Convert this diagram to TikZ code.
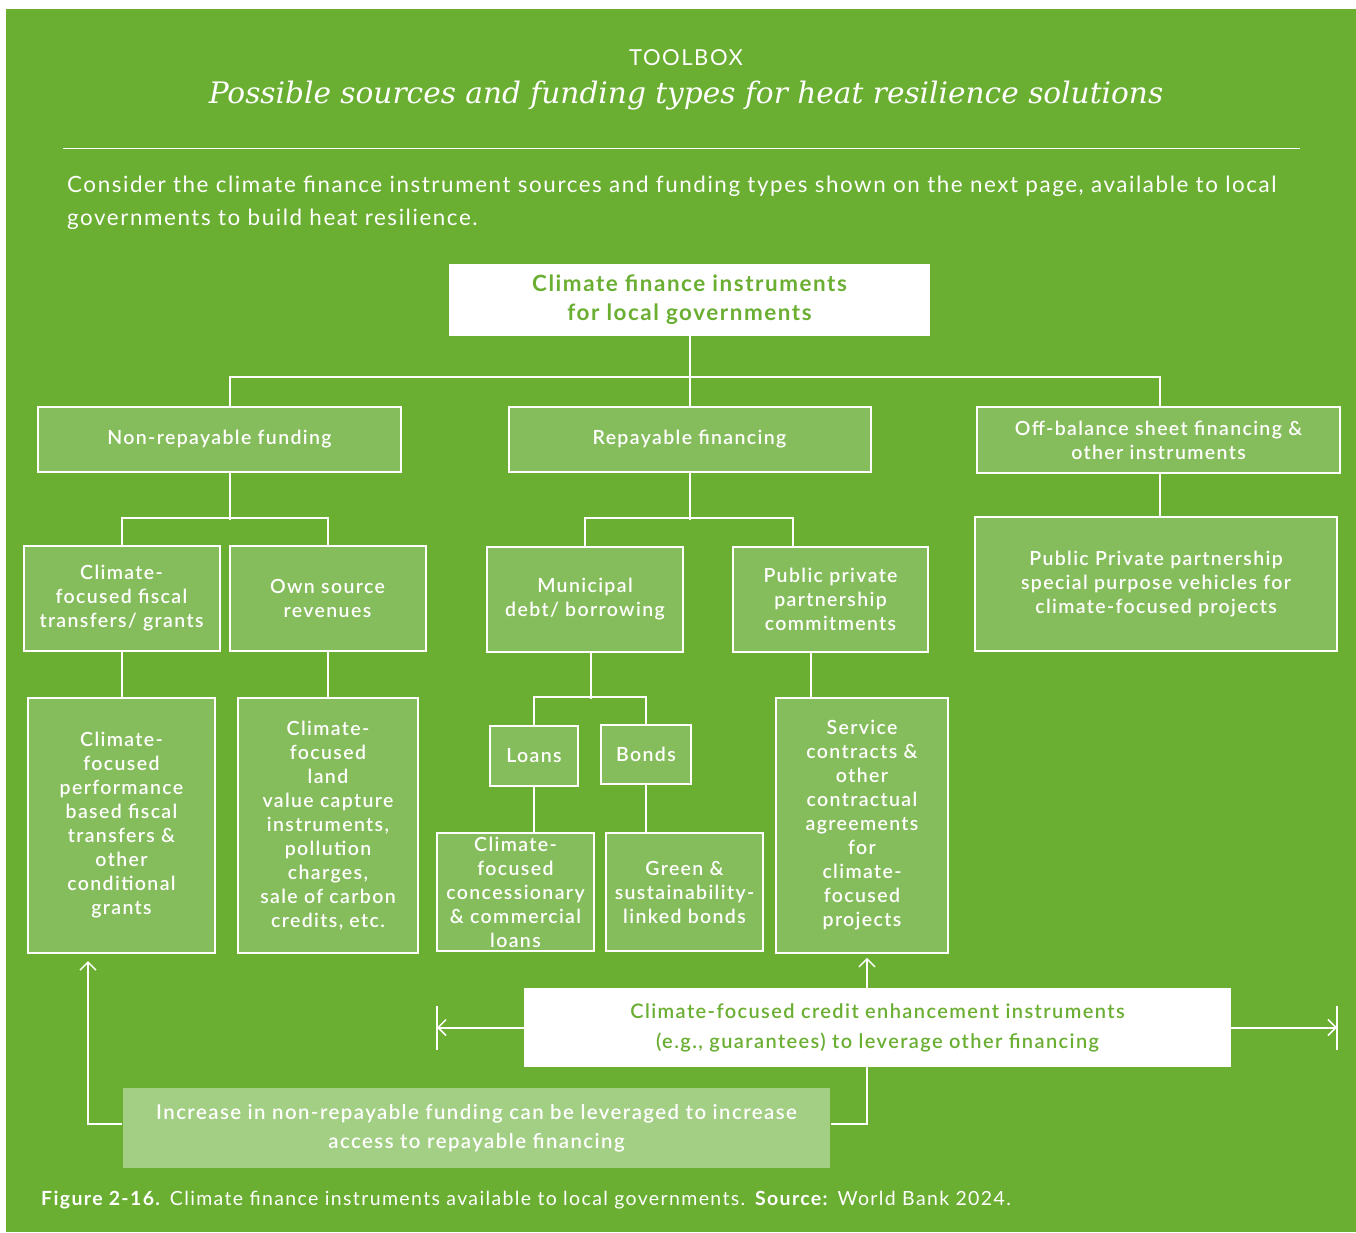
\documentclass[tikz,border=0pt]{standalone}
\usepackage{fontspec}
\setmainfont{Lato}[LetterSpace=7]
\newfontfamily\titlefont{DejaVu Serif}
\IfFontExistsTF{Lato Semibold}{\newfontfamily\semifont{Lato Semibold}[LetterSpace=7]}{\newfontfamily\semifont{Lato}[LetterSpace=7, FakeBold=2]}
\usetikzlibrary{arrows.meta}

\definecolor{bggreen}{HTML}{6AAE32}
\definecolor{boxgreen}{HTML}{86BD5C}
\definecolor{palegreen}{HTML}{A3CF85}

\tikzset{
  box/.style={draw=white, line width=2pt, fill=boxgreen, text=white, align=center,
    inner sep=0pt, font=\semifont\fontsize{19.5}{24}\selectfont},
  whitebox/.style={fill=white, text=bggreen, align=center, inner sep=0pt},
  link/.style={draw=white, line width=2pt},
  arr/.style={link, -{Straight Barb[length=8pt,width=16pt,line width=1.5pt]}},
  barline/.style={draw=white, line width=1.5pt}
}

\begin{document}
\begin{tikzpicture}[x=1pt, y=-1pt]
  %% frame
  \useasboundingbox (0,0) rectangle (1356,1232);
  \fill[bggreen] (6,9) rectangle (1356,1232);

  %% heading
  \node[text=white, font=\fontsize{22}{24}\selectfont] (tag) at (686,58) {TOOLBOX};
  \node[text=white, font=\titlefont\itshape\fontsize{29.6}{36}\selectfont] (title) at (686,96)
    {Possible sources and funding types for heat resilience solutions};
  \draw[white, line width=1pt] (63,148) -- (1300,148);
  \node[text=white, anchor=north west, align=left, inner sep=0pt,
    font=\fontsize{22.4}{33}\selectfont] (intro) at (67,176)
    {Consider the climate finance instrument sources and funding types shown on the next page, available to local\\
     governments to build heat resilience.};

  %% tree
  \node[whitebox, minimum width=481pt, minimum height=72pt,
    font=\bfseries\fontsize{22.4}{29}\selectfont] (root) at (689.5,300)
    {Climate finance instruments\\for local governments};

  \node[box, minimum width=363pt, minimum height=65pt] (nonrep) at (219.5,439.5) {Non-repayable funding};
  \node[box, minimum width=362pt, minimum height=65pt] (rep) at (689.5,439.5) {Repayable financing};
  \node[box, minimum width=363pt, minimum height=66pt] (offbal) at (1158.5,440)
    {Off-balance sheet financing \&\\other instruments};

  \node[box, minimum width=196pt, minimum height=105pt] (fiscal) at (121.5,598.5)
    {Climate-\\focused fiscal\\transfers/ grants};
  \node[box, minimum width=196pt, minimum height=105pt] (ownsrc) at (327.5,598.5)
    {Own source\\revenues};
  \node[box, minimum width=196pt, minimum height=105pt] (muni) at (585,599.5)
    {Municipal\\debt/ borrowing};
  \node[box, minimum width=195pt, minimum height=105pt] (pppc) at (830.5,599.5)
    {Public private\\partnership\\commitments};
  \node[box, minimum width=362pt, minimum height=134pt] (spv) at (1156,584)
    {Public Private partnership\\special purpose vehicles for\\climate-focused projects};

  \node[box, minimum width=187pt, minimum height=255pt] (perf) at (121.5,825.5)
    {Climate-\\focused\\performance\\based fiscal\\transfers \&\\other\\conditional\\grants};
  \node[box, minimum width=180pt, minimum height=255pt] (land) at (328,825.5)
    {Climate-\\focused\\land\\value capture\\instruments,\\pollution\\charges,\\sale of carbon\\credits, etc.};
  \node[box, minimum width=88pt, minimum height=60pt] (loans) at (534,756) {Loans};
  \node[box, minimum width=90pt, minimum height=59pt] (bonds) at (646,754.5) {Bonds};
  \node[box, minimum width=157pt, minimum height=118pt] (conc) at (515.5,892)
    {Climate-\\focused\\concessionary\\\& commercial\\loans};
  \node[box, minimum width=157pt, minimum height=118pt] (green) at (684.5,892)
    {Green \&\\sustainability-\\linked bonds};
  \node[box, minimum width=172pt, minimum height=255pt] (serv) at (862,825.5)
    {Service\\contracts \&\\other\\contractual\\agreements\\for\\climate-\\focused\\projects};

  %% lower boxes
  \node[whitebox, minimum width=707pt, minimum height=79pt,
    font=\semifont\fontsize{20}{30}\selectfont] (cred) at (877.5,1027.5)
    {Climate-focused credit enhancement instruments\\(e.g., guarantees) to leverage other financing};
  \node[box, draw=none, fill=palegreen, minimum width=707pt, minimum height=80pt,
    font=\semifont\fontsize{20.4}{29}\selectfont] (lever) at (476.5,1128)
    {Increase in non-repayable funding can be leveraged to increase\\access to repayable financing};

  %% connectors
  \draw[link] (root) -- (rep);
  \draw[link] ([xshift=10.5pt]nonrep.north) -- ++(0,-29) -| ([xshift=1.5pt]offbal.north);
  \draw[link] ([xshift=10.5pt]nonrep.south) -- ++(0,47);
  \draw[link] (fiscal.north) -- ++(0,-27) -| (ownsrc.north);
  \draw[link] (rep.south) -- ++(0,47);
  \draw[link] (muni.north) -- ++(0,-28) -| ([xshift=-37.5pt]pppc.north);
  \draw[link] ([xshift=1.5pt]offbal.south) -- ++(0,44);
  \draw[link] (fiscal.south) -- (fiscal.south |- perf.north);
  \draw[link] (ownsrc.south) -- (ownsrc.south |- land.north);
  \draw[link] ([xshift=6pt]muni.south) -- ++(0,46);
  \draw[link] (loans.north) -- ++(0,-28) -| (bonds.north);
  \draw[link] (loans.south) -- (loans.south |- conc.north);
  \draw[link] (bonds.south) -- (bonds.south |- green.north);
  \draw[link] ([xshift=-19.5pt]pppc.south) -- ++(0,46);

  %% arrows
  \coordinate (lbar) at (437,1027.5);
  \coordinate (rbar) at (1337,1027.5);
  \draw[arr] ([xshift=-10.5pt]cred.north) -- ++(0,-30);
  \draw[arr] (cred.west) -- (lbar);
  \draw[arr] (cred.east) -- (rbar);
  \draw[barline] ([yshift=22pt]lbar) -- ([yshift=-22pt]lbar);
  \draw[barline] ([yshift=22pt]rbar) -- ([yshift=-22pt]rbar);
  \draw[arr] ([yshift=4pt]lever.west) -| ([shift={(-33.5,7)}]perf.south);
  \draw[link] ([yshift=4pt]lever.east) -| ([xshift=-10.5pt]cred.south);

  %% caption
  \node[text=white, anchor=west, inner sep=0pt, font=\fontsize{19.5}{22}\selectfont] (caption) at (41,1200)
    {\textbf{Figure 2-16.} Climate finance instruments available to local governments. \textbf{Source:} World Bank 2024.};
\end{tikzpicture}
\end{document}
